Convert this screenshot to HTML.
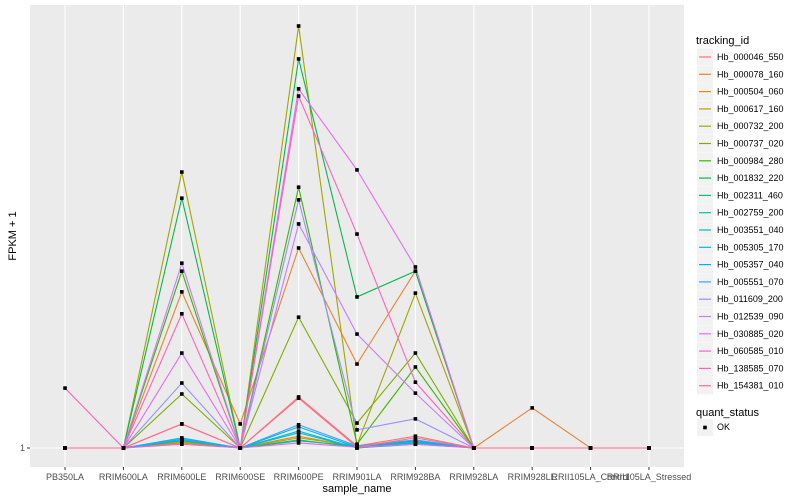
<!DOCTYPE html>
<html><head><meta charset="utf-8"><style>
body{margin:0;background:#fff;}
svg{display:block;font-family:"Liberation Sans",sans-serif;}
</style></head><body>
<svg id="chart" width="800" height="500">
<rect x="30" y="5" width="654" height="462" fill="#ebebeb"/>
<g id="grid"></g><g id="lines"></g><g id="pts"></g><g id="axes"></g><g id="legend"></g>
</svg>
<script>
const categories=["PB350LA","RRIM600LA","RRIM600LE","RRIM600SE","RRIM600PE","RRIM901LA","RRIM928BA","RRIM928LA","RRIM928LE","RRII105LA_Control","RRII105LA_Stressed"];
const seriesNames=["Hb_000046_550","Hb_000078_160","Hb_000504_060","Hb_000617_160","Hb_000732_200","Hb_000737_020","Hb_000984_280","Hb_001832_220","Hb_002311_460","Hb_002759_200","Hb_003551_040","Hb_005305_170","Hb_005357_040","Hb_005551_070","Hb_011609_200","Hb_012539_090","Hb_030885_020","Hb_060585_010","Hb_138585_070","Hb_154381_010"];
const colors=["#F8766D","#EA8331","#D89000","#C09B00","#A3A500","#7CAE00","#39B600","#00BB4E","#00BF7D","#00C1A3","#00BFC4","#00BAE0","#00B0F6","#35A2FF","#9590FF","#C77CFF","#E76BF3","#FA62DB","#FF62BC","#FF6C91"];
const s000046=[1,1,6.7,1,13.1,1.5,3.8,1,1,1,1];
const s000078=[1,1,38.0,6.7,48.4,20.9,42.9,1,10.5,1,1];
const s000504=[1,1,2.4,1,3.8,1.2,2.7,1,1,1,1];
const s000617=[1,1,2.2,1,3.4,1.5,2.4,1,1,1,1];
const s000732=[1,1,66.4,1,101.0,1.7,37.7,1,1,1,1];
const s000737=[1,1,13.8,1,32.0,6.9,23.5,1,1,1,1];
const s000984=[1,1,42.9,1,62.8,1.9,20.2,1,1,1,1];
const s001832=[1,1,60.2,1,93.2,36.8,42.9,1,1,1,1];
const s002311=[1,1,2.7,1,2.7,1.5,2.2,1,1,1,1];
const s002759=[1,1,2.9,1,2.9,1.2,2.4,1,1,1,1];
const s003551=[1,1,3.1,1,4.6,1,1.9,1,1,1,1];
const s005305=[1,1,2.9,1,5.0,1,2.2,1,1,1,1];
const s005357=[1,1,3.4,1,6.0,1.2,2.7,1,1,1,1];
const s005551=[1,1,3.1,1,6.5,1.5,2.9,1,1,1,1];
const s011609=[1,1,16.4,1,59.8,5.3,7.9,1,1,1,1];
const s012539=[1,1,44.8,1,54.1,28.0,14.0,1,1,1,1];
const s030885=[1,1,23.5,1,86.1,66.9,43.9,1,1,1,1];
const s060585=[1,1,1.9,1,2.2,1.2,1.9,1,1,1,1];
const s138585=[15.2,1,32.8,1,84.4,51.7,16.6,1,1,1,1];
const s154381=[1,1,6.7,1,12.8,1.2,3.4,1,1,1,1];
const seriesValues=[s000046,s000078,s000504,s000617,s000732,s000737,s000984,s001832,s002311,s002759,s003551,s005305,s005357,s005551,s011609,s012539,s030885,s060585,s138585,s154381];
const yTicks=[1];
const NS="http://www.w3.org/2000/svg";
function mk(t,a,p){const e=document.createElementNS(NS,t);for(const k in a)e.setAttribute(k,a[k]);p.appendChild(e);return e;}
const PL=30,PR=684,step=(PR-PL)/(categories.length-1+1.2);
function xs(i){return PL+0.6*step+i*step;}
function ys(v){return 448-(v-1)*4.22;}
const grid=document.getElementById('grid'),lines=document.getElementById('lines'),pts=document.getElementById('pts'),axes=document.getElementById('axes'),leg=document.getElementById('legend');
yTicks.forEach(t=>{const l=mk('line',{x1:PL,x2:PR,y1:ys(t),y2:ys(t),stroke:'#fff','stroke-width':1.1},grid);


const tl=mk('text',{x:25,y:ys(t)+3,'font-size':9,fill:'#4d4d4d','text-anchor':'end'},axes);tl.textContent=t;


mk('line',{x1:27,x2:30,y1:ys(t),y2:ys(t),stroke:'#333'},axes);});
categories.forEach((c,i)=>{const g=mk('line',{x1:xs(i),x2:xs(i),y1:5,y2:467,stroke:'#fff','stroke-width':1.1},grid);


mk('line',{x1:xs(i),x2:xs(i),y1:467,y2:470,stroke:'#333'},axes);
const t=mk('text',{x:xs(i),y:480,'font-size':9,fill:'#4d4d4d','text-anchor':'middle'},axes);t.textContent=c;

});
seriesValues.forEach((vals,s)=>{const p=mk('polyline',{points:vals.map((v,i)=>xs(i)+','+ys(v)).join(' '),fill:'none',stroke:colors[s],'stroke-width':1.1},lines);

});
seriesValues.forEach((vals,s)=>{vals.forEach((v,i)=>{const r=mk('rect',{x:xs(i)-1.8,y:ys(v)-1.8,width:3.6,height:3.6,fill:'#000'},pts);

});});
const xt=mk('text',{x:357,y:492,'font-size':11,fill:'#000','text-anchor':'middle'},axes);xt.textContent='sample_name';


const yt=mk('text',{x:0,y:0,'font-size':11,fill:'#000','text-anchor':'middle',transform:'translate(16,236) rotate(-90)'},axes);yt.textContent='FPKM + 1';


const lt=mk('text',{x:696,y:44,'font-size':11,fill:'#000'},leg);lt.textContent='tracking_id';


seriesNames.forEach((n,s)=>{const cy=57+s*17.3;const g=mk('g',{},leg);


mk('rect',{x:697,y:cy-8.5,width:16,height:17,fill:'#f2f2f2'},g);
mk('line',{x1:699,x2:711,y1:cy,y2:cy,stroke:colors[s],'stroke-width':1.2},g);
const t=mk('text',{x:717,y:cy+3,'font-size':9,fill:'#000'},g);t.textContent=n;});
const qt=mk('text',{x:696,y:416,'font-size':11,fill:'#000'},leg);qt.textContent='quant_status';


const qg=mk('g',{},leg);


mk('rect',{x:697,y:419,width:16,height:17,fill:'#f2f2f2'},qg);
mk('rect',{x:703.2,y:425.7,width:3.6,height:3.6,fill:'#000'},qg);
const ok=mk('text',{x:717,y:430,'font-size':9,fill:'#000'},qg);ok.textContent='OK';
</script>
</body></html>
